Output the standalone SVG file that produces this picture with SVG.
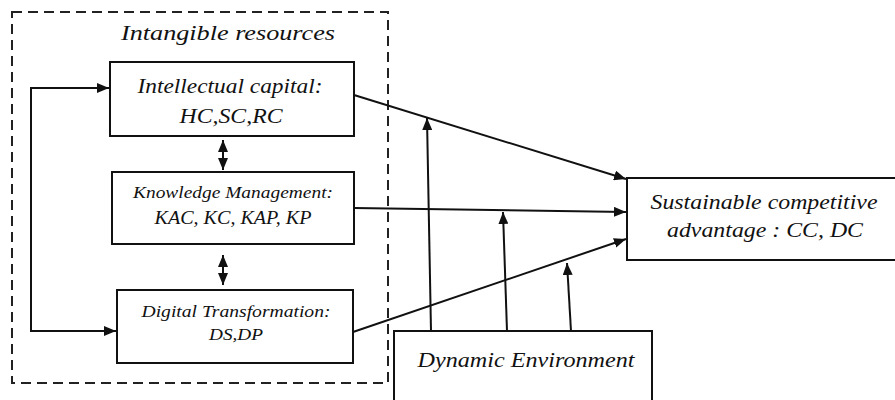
<svg xmlns="http://www.w3.org/2000/svg" width="895" height="400" viewBox="0 0 895 400">
<style>
.box{fill:#fff;stroke:#111;stroke-width:2}
.ln{fill:none;stroke:#111;stroke-width:2}
.t{font-family:'Liberation Serif','Times New Roman',serif;font-style:italic;fill:#111;text-anchor:middle}
</style>
<defs>
<marker id="ah" viewBox="0 0 12 10" refX="12" refY="5" markerWidth="12" markerHeight="10" markerUnits="userSpaceOnUse" orient="auto-start-reverse">
<path d="M0,0 L12,5 L0,10 z" fill="#111"/>
</marker>
</defs>
<rect width="895" height="400" fill="#fff"/>
<g id="intangible">
<rect x="12" y="12" width="376" height="371" fill="none" stroke="#222" stroke-width="2" stroke-dasharray="10,6"/>
<text class="t" x="228" y="40" font-size="22" textLength="214" lengthAdjust="spacingAndGlyphs">Intangible resources</text>
</g>
<g id="ic">
<rect class="box" x="110" y="62" width="244" height="74"/>
<text class="t" x="230" y="93" font-size="21" textLength="185" lengthAdjust="spacingAndGlyphs">Intellectual capital:</text>
<text class="t" x="231" y="123" font-size="21" textLength="103" lengthAdjust="spacingAndGlyphs">HC,SC,RC</text>
</g>
<g id="km">
<rect class="box" x="112" y="172" width="242" height="72"/>
<text class="t" x="233" y="198" font-size="17" textLength="200" lengthAdjust="spacingAndGlyphs">Knowledge Management:</text>
<text class="t" x="233" y="224" font-size="18" textLength="157" lengthAdjust="spacingAndGlyphs">KAC, KC, KAP, KP</text>
</g>
<g id="dt">
<rect class="box" x="117" y="290" width="236" height="73"/>
<text class="t" x="236" y="317" font-size="17" textLength="189" lengthAdjust="spacingAndGlyphs">Digital Transformation:</text>
<text class="t" x="236" y="340" font-size="17" textLength="54" lengthAdjust="spacingAndGlyphs">DS,DP</text>
</g>
<g id="sca">
<rect class="box" x="627" y="178" width="270" height="82"/>
<text class="t" x="764" y="209" font-size="21" textLength="227" lengthAdjust="spacingAndGlyphs">Sustainable competitive</text>
<text class="t" x="765" y="237" font-size="21" textLength="196" lengthAdjust="spacingAndGlyphs">advantage : CC, DC</text>
</g>
<g id="de">
<rect class="box" x="394" y="331" width="258" height="80"/>
<text class="t" x="526" y="367" font-size="21" textLength="217" lengthAdjust="spacingAndGlyphs">Dynamic Environment</text>
</g>
<g id="connectors">
<path class="ln" d="M223,140 L223,170" marker-start="url(#ah)" marker-end="url(#ah)"/>
<path class="ln" d="M223,255 L223,285" marker-start="url(#ah)" marker-end="url(#ah)"/>
<path class="ln" d="M109,88 L31,88 L31,331 L116,331" marker-start="url(#ah)" marker-end="url(#ah)"/>
<path class="ln" d="M354,95 L626,179" marker-end="url(#ah)"/>
<path class="ln" d="M354,208 L626,212" marker-end="url(#ah)"/>
<path class="ln" d="M353,332 L626,239" marker-end="url(#ah)"/>
<path class="ln" d="M431,331 L427,118" marker-end="url(#ah)"/>
<path class="ln" d="M507,331 L503,212" marker-end="url(#ah)"/>
<path class="ln" d="M571,331 L567,263" marker-end="url(#ah)"/>
</g>
</svg>
